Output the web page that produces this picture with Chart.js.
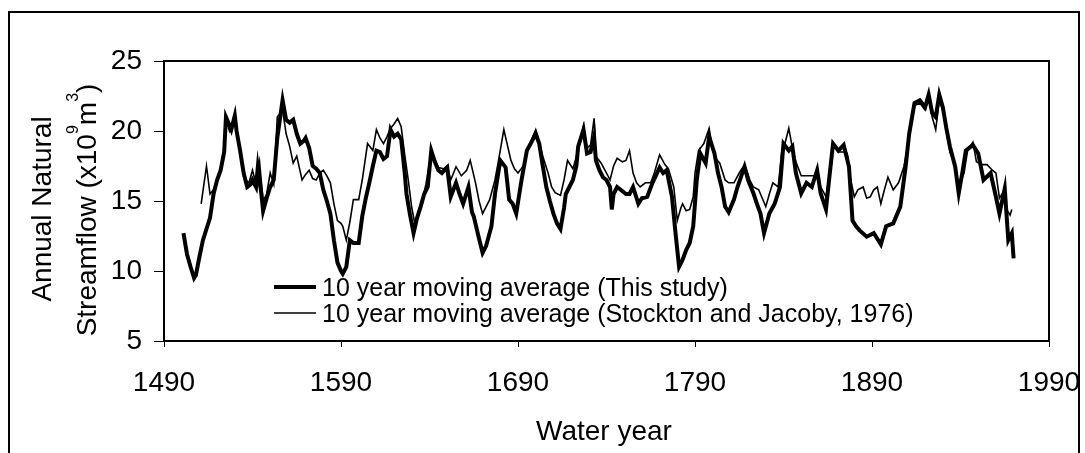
<!DOCTYPE html>
<html>
<head>
<meta charset="utf-8">
<script src="https://cdn.jsdelivr.net/npm/chart.js@4.4.1/dist/chart.umd.min.js"></script>
<style>
  body { margin: 0; background: #fff; }
  #wrap { width: 1085px; height: 453px; position: relative; }
</style>
</head>
<body>
<div id="wrap"><canvas id="chart"></canvas></div>
<script>
// 10 year moving average, this study (water year, 10^9 m3)
const studyYears = [1501,1503,1505,1507,1508,1510,1512,1514,1516,1518,1520,1522,1524,1525,1527,1528,1530,1531,1533,1535,1537,1539,1540,1542,1543,1545,1546,1548,1550,1552,1554,1556,1557,1559,1561,1563,1565,1567,1569,1570,1572,1574,1576,1578,1580,1582,1584,1586,1588,1590,1591,1593,1595,1597,1600,1602,1604,1606,1608,1610,1612,1614,1616,1618,1620,1622,1624,1626,1627,1629,1631,1633,1635,1637,1639,1641,1643,1645,1647,1650,1652,1655,1657,1659,1662,1664,1665,1668,1670,1672,1675,1677,1680,1683,1685,1687,1689,1692,1695,1698,1700,1702,1704,1706,1708,1710,1712,1714,1716,1717,1719,1721,1723,1724,1727,1729,1731,1733,1734,1736,1738,1740,1742,1743,1744,1746,1748,1751,1753,1755,1758,1760,1763,1766,1770,1772,1774,1777,1779,1781,1783,1785,1787,1789,1791,1793,1796,1798,1801,1803,1805,1807,1809,1812,1814,1818,1820,1823,1825,1827,1829,1832,1835,1838,1840,1843,1845,1847,1850,1853,1856,1859,1861,1864,1866,1868,1871,1874,1877,1879,1881,1883,1887,1891,1893,1895,1898,1902,1906,1909,1911,1914,1917,1920,1922,1924,1926,1928,1930,1932,1934,1937,1939,1941,1943,1947,1950,1953,1957,1960,1962,1965,1967,1969,1970];
const studyFlow = [12.7,11.2,10.3,9.5,9.7,11.0,12.2,13.0,13.8,15.5,16.5,17.2,18.5,21.0,20.4,20.1,21.1,20.0,18.6,17.0,16.0,16.2,16.5,16.0,17.4,15.5,14.3,15.2,16.0,16.5,19.5,21.3,22.2,20.8,20.6,20.8,19.8,19.1,19.3,19.5,18.8,17.5,17.3,17.0,15.8,15.0,14.1,12.2,10.6,10.0,9.8,10.3,12.2,12.0,12.0,13.9,15.2,16.3,17.5,18.6,18.5,18.0,18.2,20.1,19.6,19.8,19.4,17.0,15.5,14.0,12.7,13.8,14.6,15.5,16.0,18.6,17.8,17.2,17.0,17.4,15.3,16.3,15.5,14.8,16.0,14.2,13.9,12.3,11.3,11.8,13.2,15.5,17.9,17.4,15.1,14.8,14.1,16.5,18.6,19.3,19.8,19.1,17.5,16.0,15.0,14.1,13.4,13.0,14.5,15.5,16.0,16.5,17.5,18.9,20.1,18.4,18.5,19.6,17.9,17.2,16.7,16.5,16.0,14.4,15.5,16.0,15.8,15.5,15.5,16.0,14.8,15.2,15.3,16.3,17.4,17.0,17.2,15.3,12.7,10.3,10.8,11.5,12.0,13.2,16.5,18.4,17.7,19.6,18.4,17.0,16.0,14.6,14.2,15.1,16.0,17.45,16.5,15.55,14.8,14.1,12.7,14.1,14.8,16.0,19.1,18.6,18.9,17.0,15.55,16.3,16.0,17.2,15.55,14.4,16.8,19.1,18.6,19.0,17.45,13.6,13.2,12.9,12.45,12.7,12.3,11.9,13.2,13.4,14.6,17.45,19.8,22.0,22.2,21.7,22.6,21.3,21.0,22.6,21.7,20.2,18.9,17.45,15.55,17.0,18.6,19.0,18.4,16.5,17.0,15.3,14.1,15.9,12.2,12.7,10.9];

// 10 year moving average, Stockton and Jacoby (1976)
const sjYears = [1511,1514,1516,1518,1520,1522,1524,1525,1527,1530,1532,1534,1536,1538,1540,1542,1544,1546,1548,1550,1552,1554,1557,1559,1561,1563,1565,1568,1570,1572,1574,1576,1578,1580,1582,1584,1586,1588,1590,1591,1593,1595,1597,1600,1602,1605,1608,1610,1612,1614,1616,1618,1620,1622,1624,1626,1628,1630,1632,1634,1636,1638,1641,1643,1645,1648,1650,1652,1655,1658,1661,1663,1666,1668,1670,1672,1674,1677,1679,1682,1684,1686,1688,1690,1693,1696,1700,1702,1704,1707,1709,1711,1714,1716,1718,1721,1724,1727,1729,1731,1733,1734,1737,1740,1742,1744,1746,1749,1751,1753,1755,1757,1759,1762,1765,1767,1770,1773,1775,1778,1780,1782,1783,1785,1787,1789,1790,1792,1795,1798,1800,1802,1804,1807,1809,1812,1815,1818,1821,1823,1826,1828,1830,1832,1834,1837,1839,1841,1843,1845,1847,1850,1853,1856,1859,1861,1864,1866,1868,1871,1874,1876,1878,1880,1882,1885,1887,1889,1891,1893,1895,1897,1899,1902,1905,1908,1911,1914,1917,1920,1922,1924,1926,1928,1930,1932,1934,1937,1939,1942,1944,1947,1949,1952,1955,1958,1960,1962,1964,1966,1968,1969];
const sjFlow = [14.8,17.5,15.5,15.8,16.6,17.3,18.8,20.8,20.0,21.0,19.5,17.5,16.5,16.3,17.2,16.2,17.8,15.0,15.5,17.0,16.2,21.0,21.5,19.8,18.9,17.7,18.2,16.5,16.9,17.2,16.6,16.5,17.0,17.2,16.8,16.3,14.8,13.6,13.4,13.2,12.2,13.5,15.1,15.1,16.5,19.1,18.6,20.1,19.5,19.1,19.6,20.2,20.5,20.9,20.3,18.3,16.5,14.5,13.2,14.2,15.1,16.2,18.5,18.0,17.4,17.3,17.5,16.5,17.45,16.8,17.2,17.9,16.3,15.0,14.1,14.6,15.1,16.5,17.9,20.1,19.0,17.9,17.3,17.0,17.5,18.9,20.1,19.2,18.2,17.0,16.0,15.6,15.4,16.5,17.9,17.3,18.6,20.4,18.8,19.0,20.9,18.2,17.7,17.0,16.5,17.5,18.05,17.8,17.9,18.6,17.0,16.3,16.0,16.3,16.3,17.0,18.3,17.6,17.3,16.0,13.6,14.5,14.8,14.3,14.4,15.3,17.0,18.6,19.1,20.2,18.6,18.0,17.7,16.5,16.3,16.3,17.0,17.6,16.5,16.0,15.8,15.2,14.6,15.5,16.3,16.0,18.5,19.2,20.2,18.8,17.8,16.8,16.8,16.8,16.8,16.0,15.3,17.0,19.0,18.5,18.5,18.4,16.5,15.3,15.8,16.0,15.2,15.3,15.8,16.0,14.8,15.8,16.7,15.8,16.3,17.45,19.5,21.8,22.0,21.5,22.3,21.0,20.1,22.2,21.5,20.0,18.5,17.5,16.0,17.0,18.6,19.2,17.8,17.6,17.6,17.2,17.0,15.2,15.6,14.4,14.0,14.4];

const yearTicks = [1490, 1590, 1690, 1790, 1890, 1990];
const flowTicks = [5, 10, 15, 20, 25];
const seriesNames = ["10 year moving average (This study)", "10 year moving average (Stockton and Jacoby, 1976)"];

const FONT = "'Liberation Sans', Arial, sans-serif";

const toPoints = (xs, ys) => xs.map((x, i) => ({ x: x, y: ys[i] }));

// frame, plot box, legend and axis titles
const decor = {
  id: "decor",
  afterDraw(chart) {
    const ctx = chart.ctx;
    const a = chart.chartArea;
    ctx.save();
    ctx.strokeStyle = "#000";
    // outer figure frame
    ctx.lineWidth = 2;
    ctx.strokeRect(9, 12, 1070, 460);
    // plot box
    ctx.strokeRect(a.left, a.top, a.right - a.left, a.bottom - a.top);

    // legend inside the plot
    const items = [
      { y: 287, w: 4, text: seriesNames[0] },
      { y: 313, w: 1.6, text: seriesNames[1] },
    ];
    ctx.font = "25px " + FONT;
    ctx.fillStyle = "#000";
    ctx.textBaseline = "middle";
    ctx.textAlign = "left";
    items.forEach((it) => {
      ctx.lineWidth = it.w;
      ctx.beginPath();
      ctx.moveTo(274, it.y);
      ctx.lineTo(316, it.y);
      ctx.stroke();
      ctx.fillText(it.text, 322, it.y + 2);
    });

    // x title
    ctx.font = "28px " + FONT;
    ctx.textAlign = "center";
    ctx.fillText("Water year", 604, 432);

    // y title, two rotated lines, second one with superscripts
    ctx.translate(43, 209);
    ctx.rotate(-Math.PI / 2);
    ctx.fillText("Annual Natural", 0, 0);
    ctx.rotate(Math.PI / 2);
    ctx.translate(-43, -209);

    ctx.translate(88, 210);
    ctx.rotate(-Math.PI / 2);
    const parts = [["Streamflow (x10", 0], ["9", 1], ["m", 0], ["3", 1], [")", 0]];
    const big = "28px " + FONT, small = "16px " + FONT;
    let total = 0;
    parts.forEach((p) => { ctx.font = p[1] ? small : big; total += ctx.measureText(p[0]).width; });
    let cx = -total / 2;
    ctx.textAlign = "left";
    parts.forEach((p) => {
      ctx.font = p[1] ? small : big;
      ctx.fillText(p[0], cx, p[1] ? -14 : 0);
      cx += ctx.measureText(p[0]).width;
    });
    ctx.restore();
  },
};

const ctx = document.getElementById("chart").getContext("2d");
const flowChart = new Chart(ctx, {
  type: "line",
  data: {
    datasets: [
      {
        label: seriesNames[0],
        data: toPoints(studyYears, studyFlow),
        borderColor: "#000",
        borderWidth: 4,
        pointRadius: 0,
        tension: 0,
      },
      {
        label: seriesNames[1],
        data: toPoints(sjYears, sjFlow),
        borderColor: "#000",
        borderWidth: 1.6,
        pointRadius: 0,
        tension: 0,
      },
    ],
  },
  options: {
    responsive: true,
    maintainAspectRatio: false,
    animation: false,
    layout: { padding: { top: 61, right: 36, bottom: 0, left: 0 } },
    plugins: { legend: { display: false }, tooltip: { enabled: false } },
    scales: {
      x: {
        type: "linear",
        min: yearTicks[0],
        max: yearTicks[yearTicks.length - 1],
        afterBuildTicks: (s) => { s.ticks = yearTicks.map((v) => ({ value: v })); },
        afterFit: (s) => { s.height = 112; s.paddingLeft = 0; s.paddingRight = 0; },
        grid: { drawOnChartArea: false, tickLength: 6, color: "#000", lineWidth: 1 },
        border: { display: false },
        ticks: {
          color: "#000",
          font: { size: 28, family: FONT },
          padding: 19,
          maxRotation: 0,
          callback: (v) => String(v),
        },
      },
      y: {
        min: flowTicks[0],
        max: flowTicks[flowTicks.length - 1],
        afterBuildTicks: (s) => { s.ticks = flowTicks.map((v) => ({ value: v })); },
        afterFit: (s) => { s.width = 164; s.paddingTop = 0; s.paddingBottom = 0; },
        grid: { drawOnChartArea: false, tickLength: 10, color: "#000", lineWidth: 1 },
        border: { display: false },
        ticks: { color: "#000", font: { size: 28, family: FONT }, padding: 12 },
      },
    },
  },
  plugins: [decor],
});
</script>
</body>
</html>
